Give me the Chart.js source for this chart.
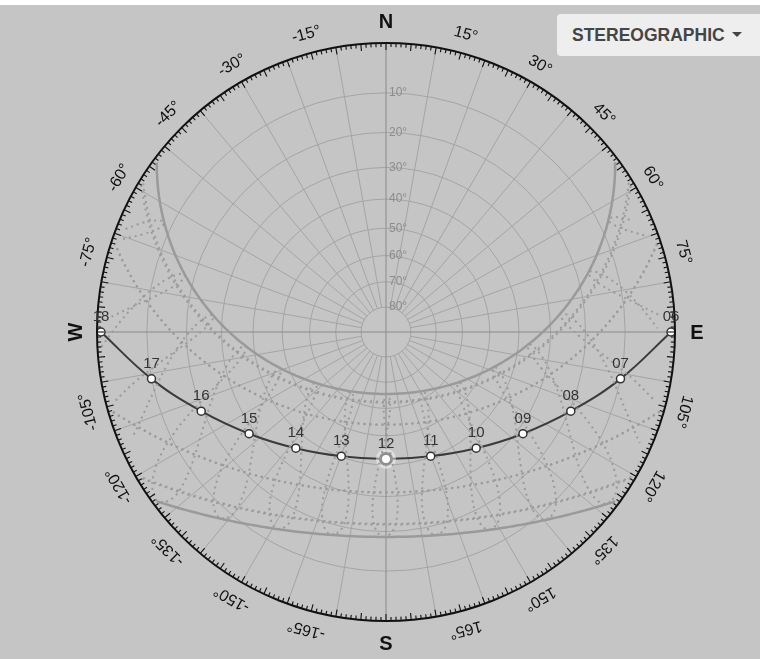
<!DOCTYPE html>
<html>
<head>
<meta charset="utf-8">
<script src="https://cdn.jsdelivr.net/npm/chart.js@4.4.1/dist/chart.umd.min.js"></script>
<style>
    html, body { margin: 0; padding: 0; background: #c5c5c5; }
    body { width: 760px; height: 659px; position: relative; overflow: hidden;
           font-family: 'Helvetica Neue', Helvetica, Arial, 'Liberation Sans', sans-serif; }
    #topStrip { position: absolute; left: 0; top: 0; width: 760px; height: 5px; background: #fff; }
    #wrap { position: absolute; left: 0; top: 0; width: 760px; height: 659px; }
    #projection { position: absolute; left: 557px; top: 14px; width: 215px; height: 42px;
                  background: #eeeeee; border-radius: 4px; box-sizing: border-box;
                  padding-left: 15px; line-height: 42px; font-size: 17.5px; font-weight: bold; color: #454545; }
    #projection .caret { display: inline-block; width: 0; height: 0; margin-left: 7px; vertical-align: 4px;
                         border-left: 5px solid transparent; border-right: 5px solid transparent; border-top: 5px solid #454545; }
</style>
</head>
<body>
<div id="topStrip"></div>
<div id="wrap"><canvas id="sunPath"></canvas></div>
<div id="projection">STEREOGRAPHIC<span class="caret"></span></div>
<script>
// site latitude and the day shown (equinox), hourly sun positions
const latitude = 48;
const hourLabels = ['06', '07', '08', '09', '10', '11', '12', '13', '14', '15', '16', '17', '18'];
const sunAzimuth = [90, 101.3, 113.2, 126.6, 142.2, 160.2, 180, 199.8, 217.8, 233.4, 246.8, 258.7, 270];
const sunAltitude = [0, 10.0, 19.6, 28.2, 35.4, 40.3, 42.0, 40.3, 35.4, 28.2, 19.6, 10.0, 0];

// solstice paths (solid) and monthly paths on the 21st (dotted)
const solsticeDeclination = [23.44, -23.44];
const monthDeclination = [-20.1, -10.8, 11.9, 20.1, 20.5, 12.0, -10.7, -19.9];

// hour lines (analemmas): declination and equation of time (min) on the 1st and 16th
const analemmaHours = [5, 6, 7, 8, 9, 10, 11, 12, 13, 14, 15, 16, 17, 18, 19];
const analemmaDeclination = [-23.0, -21.1, -17.2, -12.6, -7.8, -2.0, 4.3, 10.0, 15.0, 19.0, 22.0, 23.3,
                             23.1, 21.4, 18.1, 13.8, 8.4, 2.6, -3.0, -8.7, -14.3, -18.7, -21.8, -23.3];
const analemmaEquationOfTime = [-3.2, -9.6, -13.5, -14.2, -12.5, -8.9, -4.1, 0.0, 2.9, 3.6, 2.2, -0.4,
                                -3.6, -6.0, -6.4, -4.4, -0.1, 5.0, 10.2, 14.2, 16.4, 15.2, 11.0, 4.4];

// grid and axis labels
const altitudeRings = [10, 20, 30, 40, 50, 60, 70, 80];
const altitudeLabels = ['10°', '20°', '30°', '40°', '50°', '60°', '70°', '80°'];
const azimuthLabelAngles = [15, 30, 45, 60, 75, 105, 120, 135, 150, 165, -15, -30, -45, -60, -75, -105, -120, -135, -150, -165];
const cardinalAngles = [0, 90, 180, 270];
const cardinalLabels = ['N', 'E', 'S', 'W'];

const D2R = Math.PI / 180;
const FONT = "'Helvetica Neue', Helvetica, Arial, 'Liberation Sans', sans-serif";

// stereographic projection, horizon at radius 1, north up, east right
function project(az, alt) {
    const r = Math.tan((90 - alt) / 2 * D2R);
    return { x: r * Math.sin(az * D2R), y: r * Math.cos(az * D2R) };
}

function sunAt(dec, hourAngle) {
    const lat = latitude * D2R, d = dec * D2R, h = hourAngle * D2R;
    const sinAlt = Math.sin(lat) * Math.sin(d) + Math.cos(lat) * Math.cos(d) * Math.cos(h);
    const east = -Math.cos(d) * Math.sin(h);
    const north = Math.cos(lat) * Math.sin(d) - Math.sin(lat) * Math.cos(d) * Math.cos(h);
    return { alt: Math.asin(sinAlt) / D2R, az: Math.atan2(east, north) / D2R };
}

function dayPath(dec) {
    const h0 = Math.acos(-Math.tan(latitude * D2R) * Math.tan(dec * D2R)) / D2R;
    const pts = [];
    for (let i = 0; i <= 120; i++) {
        const p = sunAt(dec, -h0 + (2 * h0) * i / 120);
        pts.push(project(p.az, Math.max(p.alt, 0)));
    }
    return pts;
}

function hourLine(hour) {
    const pts = [];
    const n = analemmaDeclination.length;
    for (let i = 0; i <= n; i++) {
        const k = i % n;
        const p = sunAt(analemmaDeclination[k], (hour - 12) * 15 + analemmaEquationOfTime[k] / 4);
        pts.push(p.alt < 0 ? { x: null, y: null } : project(p.az, p.alt));
    }
    return pts;
}

const datasets = [];

analemmaHours.forEach(function (h) {
    datasets.push({
        data: hourLine(h), showLine: true, pointRadius: 0, tension: 0.4,
        borderColor: '#9b9b9b', borderWidth: 2, borderDash: [2, 4], spanGaps: false
    });
});

monthDeclination.forEach(function (d) {
    datasets.push({
        data: dayPath(d), showLine: true, pointRadius: 0, tension: 0,
        borderColor: '#9b9b9b', borderWidth: 2, borderDash: [2, 4]
    });
});

solsticeDeclination.forEach(function (d) {
    datasets.push({
        data: dayPath(d), showLine: true, pointRadius: 0, tension: 0,
        borderColor: '#9a9a9a', borderWidth: 2.5
    });
});

const sunPoints = sunAzimuth.map(function (az, i) { return project(az, sunAltitude[i]); });
const noonIndex = hourLabels.indexOf('12');

// glow behind the noon marker
datasets.push({
    data: [sunPoints[noonIndex]], pointRadius: 10, pointBorderWidth: 0,
    pointBackgroundColor: 'rgba(255,255,255,0.45)', showLine: false
});

datasets.push({
    data: sunPoints, showLine: true, tension: 0.4,
    borderColor: '#3b3b3b', borderWidth: 2,
    pointRadius: sunPoints.map(function (p, i) { return i === noonIndex ? 5.5 : 4; }),
    pointBorderWidth: sunPoints.map(function (p, i) { return i === noonIndex ? 3 : 1.5; }),
    pointBackgroundColor: '#ffffff', pointBorderColor: '#333333'
});
const sunDatasetIndex = datasets.length - 1;

const gridPlugin = {
    id: 'sunGrid',
    beforeDatasetsDraw: function (chart) {
        const ctx = chart.ctx;
        const xs = chart.scales.x, ys = chart.scales.y;
        const cx = xs.getPixelForValue(0), cy = ys.getPixelForValue(0);
        const unit = xs.getPixelForValue(1) - cx;
        const outer = unit + 4;
        const r80 = Math.tan(5 * D2R) * unit;

        ctx.save();
        ctx.translate(cx, cy);

        // altitude rings
        ctx.strokeStyle = '#a4a4a4';
        ctx.lineWidth = 1;
        altitudeRings.forEach(function (alt) {
            ctx.beginPath();
            ctx.arc(0, 0, Math.tan((90 - alt) / 2 * D2R) * unit, 0, Math.PI * 2);
            ctx.stroke();
        });

        // azimuth lines every 10 degrees
        for (let az = 0; az < 360; az += 10) {
            if (az % 90 === 0) continue;
            const s = Math.sin(az * D2R), c = -Math.cos(az * D2R);
            ctx.beginPath();
            ctx.moveTo(s * r80, c * r80);
            ctx.lineTo(s * unit, c * unit);
            ctx.stroke();
        }

        // main axes through the zenith
        ctx.strokeStyle = '#8a8a8a';
        ctx.beginPath();
        ctx.moveTo(0, -outer); ctx.lineTo(0, outer);
        ctx.moveTo(-outer, 0); ctx.lineTo(outer, 0);
        ctx.stroke();

        // altitude labels
        ctx.fillStyle = '#8c8c8c';
        ctx.font = '12px ' + FONT;
        ctx.textAlign = 'left';
        ctx.textBaseline = 'middle';
        altitudeRings.forEach(function (alt, i) {
            const r = Math.tan((90 - alt) / 2 * D2R) * unit;
            ctx.fillText(altitudeLabels[i], 3, -r);
        });

        ctx.restore();
    },
    afterDatasetsDraw: function (chart) {
        const ctx = chart.ctx;
        const xs = chart.scales.x, ys = chart.scales.y;
        const cx = xs.getPixelForValue(0), cy = ys.getPixelForValue(0);
        const unit = xs.getPixelForValue(1) - cx;
        const outer = unit + 4;

        ctx.save();
        ctx.translate(cx, cy);

        // horizon ring and degree ticks
        ctx.strokeStyle = '#111';
        ctx.lineWidth = 2;
        ctx.beginPath();
        ctx.arc(0, 0, outer, 0, Math.PI * 2);
        ctx.stroke();
        ctx.lineWidth = 1.1;
        for (let az = 0; az < 360; az++) {
            const len = az % 5 === 0 ? 7 : 4;
            const s = Math.sin(az * D2R), c = -Math.cos(az * D2R);
            ctx.beginPath();
            ctx.moveTo(s * outer, c * outer);
            ctx.lineTo(s * (outer - len), c * (outer - len));
            ctx.stroke();
        }

        // azimuth labels, rotated along the ring
        ctx.fillStyle = '#111';
        ctx.font = '16px ' + FONT;
        ctx.textAlign = 'center';
        ctx.textBaseline = 'middle';
        azimuthLabelAngles.forEach(function (az) {
            ctx.save();
            ctx.rotate(az * D2R);
            ctx.fillText(az + '°', 0, -(outer + 19));
            ctx.restore();
        });

        ctx.font = 'bold 20px ' + FONT;
        cardinalAngles.forEach(function (az, i) {
            const s = Math.sin(az * D2R), c = -Math.cos(az * D2R);
            ctx.save();
            ctx.translate(s * (outer + 22), c * (outer + 22));
            if (cardinalLabels[i] === 'W') ctx.rotate(-Math.PI / 2);
            ctx.fillText(cardinalLabels[i], 0, 1);
            ctx.restore();
        });
        ctx.restore();

        // hour labels above the markers
        const meta = chart.getDatasetMeta(sunDatasetIndex);
        ctx.save();
        ctx.fillStyle = '#333';
        ctx.font = '15px ' + FONT;
        ctx.textAlign = 'center';
        ctx.textBaseline = 'middle';
        meta.data.forEach(function (pt, i) {
            ctx.fillText(hourLabels[i], pt.x, pt.y - 15);
        });
        ctx.restore();
    }
};

const ctx = document.getElementById('sunPath').getContext('2d');
new Chart(ctx, {
    type: 'scatter',
    data: { datasets: datasets },
    options: {
        responsive: true,
        maintainAspectRatio: false,
        animation: false,
        devicePixelRatio: 1,
        clip: false,
        layout: { padding: { left: 101, right: 89, top: 47, bottom: 42 } },
        scales: {
            x: { type: 'linear', min: -1, max: 1, display: false },
            y: { type: 'linear', min: -1, max: 1, display: false }
        },
        plugins: { legend: { display: false }, tooltip: { enabled: false } }
    },
    plugins: [gridPlugin]
});
</script>
</body>
</html>
